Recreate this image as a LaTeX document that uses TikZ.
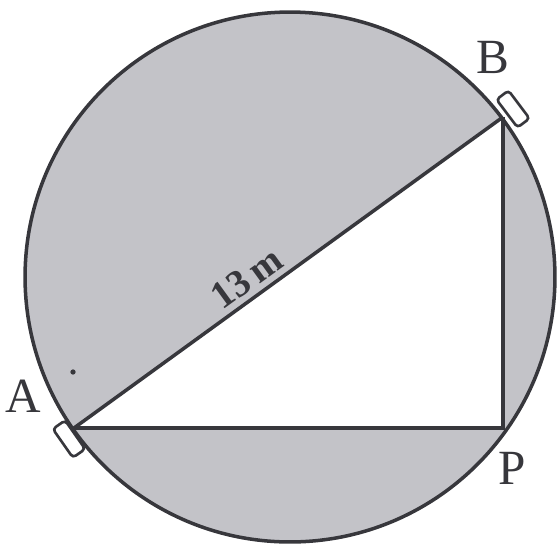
\documentclass[tikz,border=0pt]{standalone}
\usepackage{fontspec}
\setmainfont{Liberation Serif}
\definecolor{fieldgray}{RGB}{195,195,200}
\definecolor{inkgray}{RGB}{55,55,60}
\begin{document}
\begin{tikzpicture}[
    x=0.02cm,y=-0.02cm,
    edge/.style={draw=inkgray,line width=2pt},
    gate/.style={draw=inkgray,fill=white,line width=1.5pt,rounded corners=2pt,
                 minimum width=0.7cm,minimum height=0.3cm,inner sep=0pt},
    lbl/.style={text=inkgray,font=\fontsize{28}{30}\selectfont,inner sep=0pt}
]
\useasboundingbox (0,0) rectangle (557,549);
\coordinate (O) at (290,277);
\coordinate (A) at (74,428);
\coordinate (B) at (503,117);
\coordinate (P) at (503,428);

\fill[fieldgray] (O) circle[radius=5.3cm];
\fill[white] (A)--(B)--(P)--cycle;
\draw[edge] (O) circle[radius=5.3cm];
\draw[edge] (A)--node[pos=0.43,above=3pt,sloped,text=inkgray,inner sep=0pt,
    font=\fontsize{22}{24}\selectfont\bfseries]{13\,m}(B);
\draw[edge] (B)--(P)--(A);

\node[gate,rotate=-55] (gateA) at (69,439) {};
\node[gate,rotate=-53] (gateB) at (513,109) {};

\node[lbl] (labA) at (23,396) {A};
\node[lbl] (labB) at (493,57) {B};
\node[lbl] (labP) at (512,468) {P};

\fill[inkgray] (73,372) circle[radius=1.5pt];
\end{tikzpicture}
\end{document}
